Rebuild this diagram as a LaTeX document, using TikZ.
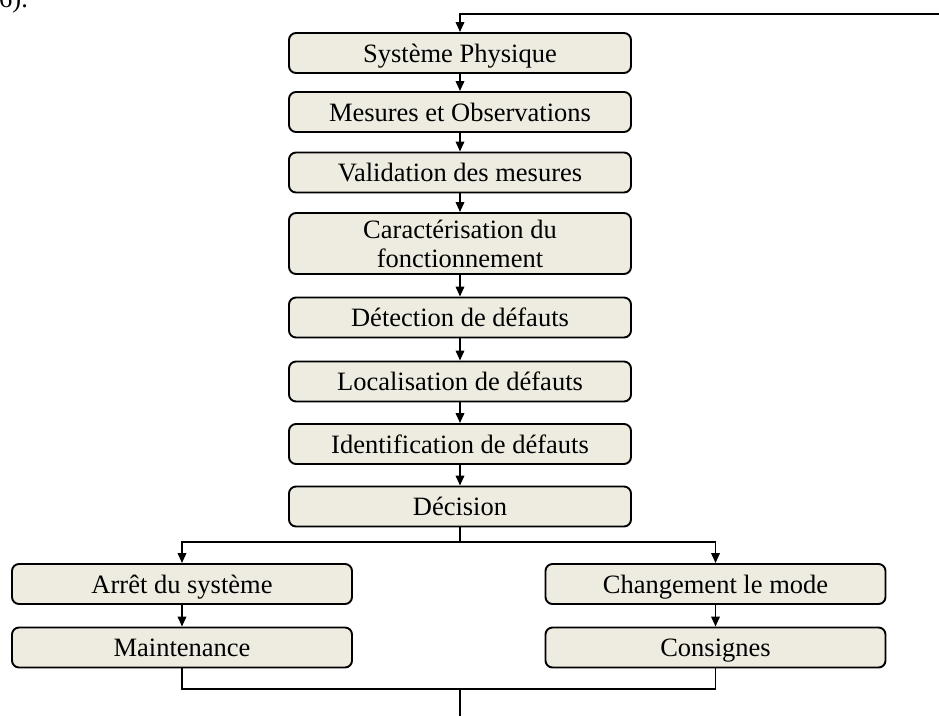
\documentclass[tikz,border=0pt]{standalone}
\usepackage{fontspec}
\setmainfont{Liberation Serif}
\usetikzlibrary{arrows.meta}
\definecolor{boxfill}{RGB}{238,236,225}
\begin{document}
\begin{tikzpicture}[x=1pt,y=-1pt,
  stage/.style={draw, line width=1.9pt, rounded corners=7pt, fill=boxfill,
    inner sep=0pt, minimum height=40pt,
    font=\fontsize{26.5}{30}\selectfont, text height=18pt, text depth=0pt},
  wide/.style={stage, minimum width=342pt},
  side/.style={stage, minimum width=340pt},
  link/.style={line width=1.9pt},
  flow/.style={link, -{Triangle[length=10pt,width=8.5pt]}}]
\useasboundingbox (0,0) rectangle (939,716);

% reference number, partly above the page edge
\node[font=\fontsize{26.5}{30}\selectfont, anchor=base west, inner sep=0pt] (num) at (-1,7) {6).};

% main chain
\node[wide] (sys) at (460,53)    {Système Physique};
\node[wide] (mes) at (460,112)   {Mesures et Observations};
\node[wide] (val) at (460,172.5) {Validation des mesures};
\node[stage, minimum width=342pt, minimum height=61pt, text height=, text depth=, align=center,
      font=\fontsize{26.5}{29}\selectfont] (car) at (460,243.5)
      {Caractérisation du\\fonctionnement};
\node[wide] (det) at (460,317.5) {Détection de défauts};
\node[wide] (loc) at (460,381.5) {Localisation de défauts};
\node[wide] (ide) at (460,444)   {Identification de défauts};
\node[wide] (dec) at (460,506.5) {Décision};

% the two branches
\node[side] (arret) at (182,584)   {Arrêt du système};
\node[side] (maint) at (182,647.5) {Maintenance};
\node[side] (chg)   at (715.5,584)   {Changement le mode};
\node[side] (cons)  at (715.5,647.5) {Consignes};

% connector points
\coordinate (fb)    at (939,14);
\coordinate (split) at (460,542);
\coordinate (join)  at (460,689);
\coordinate (out)   at (460,716);

% feedback entering from the right
\draw[flow] (fb) -| (sys.north);

\draw[flow] (sys) -- (mes);
\draw[flow] (mes) -- (val);
\draw[flow] (val) -- (car);
\draw[flow] (car) -- (det);
\draw[flow] (det) -- (loc);
\draw[flow] (loc) -- (ide);
\draw[flow] (ide) -- (dec);

\draw[link] (dec.south) -- (split);
\draw[flow] (split) -| (arret.north);
\draw[flow] (split) -| (chg.north);

\draw[flow] (arret) -- (maint);
\draw[flow] (chg) -- (cons);

\draw[link] (maint.south) |- (join);
\draw[link] (cons.south) |- (join);
\draw[link] (join) -- (out);
\end{tikzpicture}
\end{document}
